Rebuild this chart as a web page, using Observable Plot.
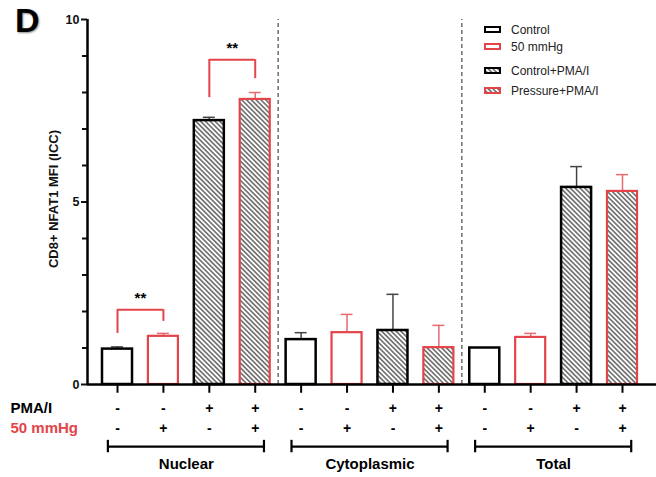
<!DOCTYPE html>
<html><head><meta charset="utf-8">
<script src="https://cdn.jsdelivr.net/npm/d3@7"></script>
<script src="https://cdn.jsdelivr.net/npm/@observablehq/plot@0.6"></script>
<style>
body{margin:0;background:#fff;font-family:"Liberation Sans",Arial,sans-serif;}
#wrap{position:relative;width:656px;height:477px;overflow:hidden}
#panel{position:absolute;left:15px;top:3px;font-size:34px;font-weight:bold;color:#000;text-shadow:1px 1px 2px rgba(0,0,0,0.45);line-height:1}
#legend{position:absolute;left:484px;top:21px;font-size:12px;color:#222}
#legend .row{display:flex;align-items:center;height:17px}
#legend svg{margin-right:10px}
</style></head><body>
<svg width="0" height="0" style="position:absolute">
  <defs>
    <pattern id="hatch" patternUnits="userSpaceOnUse" width="3.4" height="3.4" patternTransform="rotate(45)">
      <rect width="3.4" height="3.4" fill="#fff"/>
      <line x1="0" y1="1.7" x2="3.4" y2="1.7" stroke="#3a3a3a" stroke-width="1.2"/>
    </pattern>
  </defs>
</svg>
<div id="wrap"></div>
<script>
const compartments = ["Nuclear", "Cytoplasmic", "Total"];
const conditions = ["Control", "50 mmHg", "Control+PMA/I", "Pressure+PMA/I"];
const nuclearMean = [0.97, 1.32, 7.23, 7.81];
const nuclearErr  = [1.03, 1.40, 7.32, 8.00];
const cytoMean    = [1.23, 1.42, 1.48, 1.01];
const cytoErr     = [1.42, 1.92, 2.47, 1.62];
const totalMean   = [1.00, 1.29, 5.40, 5.29];
const totalErr    = [1.00, 1.40, 5.97, 5.75];
const pmaSigns      = ["-", "-", "+", "+"];
const pressureSigns = ["-", "+", "-", "+"];
const yTicks = [0, 5, 10];
const yMinorTicks = [1, 2, 3, 4, 6, 7, 8, 9];
const yLabel = "CD8+ NFAT1 MFI (ICC)";
// significance annotations: bar indices, bracket top, leg bottoms
const sigA = [0, 2];
const sigB = [1, 3];
const sigTop = [2.05, 8.90];
const sigLowA = [1.40, 7.86];
const sigLowB = [1.73, 8.38];
const sigText = ["**", "**"];

const RED = "#e3444a";
const means = [nuclearMean, cytoMean, totalMean];
const errs = [nuclearErr, cytoErr, totalErr];
const rows = [];
compartments.forEach((c, ci) => conditions.forEach((k, ki) => {
  rows.push({compartment: c, condition: k, ki, pos: ci * 4 + ki + 1,
    mean: means[ci][ki], err: errs[ci][ki], pma: pmaSigns[ki], pressure: pressureSigns[ki]});
}));
const groups = compartments.map((c, ci) => ({name: c, first: ci * 4 + 1, last: ci * 4 + 4}));
const sigs = sigA.map((a, i) => ({a: a + 1, b: sigB[i] + 1, top: sigTop[i], lowA: sigLowA[i], lowB: sigLowB[i], text: sigText[i]}));

const W = 0.327, CAP = 0.13;
const strokeOf = ki => ki % 2 === 0 ? "#000" : RED;
const errColOf = ki => ki % 2 === 0 ? "#444" : "#e86a6e";
const fillOf = ki => ki < 2 ? "#fff" : "url(#hatch)";

const barMarks = [];
const errMarks = [];
conditions.forEach((k, ki) => {
  const d = rows.filter(r => r.ki === ki);
  const de = d.filter(r => r.err > r.mean);
  errMarks.push(Plot.ruleX(de, {x: "pos", y1: "mean", y2: "err", stroke: errColOf(ki), strokeWidth: 1.5}));
  errMarks.push(Plot.ruleY(de, {y: "err", x1: r => r.pos - CAP, x2: r => r.pos + CAP, stroke: errColOf(ki), strokeWidth: 1.5}));
  barMarks.push(Plot.rectY(d, {x1: r => r.pos - W, x2: r => r.pos + W, y1: 0, y2: "mean",
    fill: fillOf(ki), stroke: strokeOf(ki), strokeWidth: ki % 2 === 0 ? 2.5 : 2.2}));
});

const xMin = 0.3464, xMax = 12.7407;
const font = "'Liberation Sans', Arial, sans-serif";

const chart = Plot.plot({
  width: 656, height: 477,
  marginLeft: 87, marginRight: 0, marginTop: 19, marginBottom: 93,
  x: {domain: [xMin, xMax], axis: null},
  y: {domain: [0, 10], axis: null},
  style: {fontFamily: font, fontSize: "11px", color: "#111", background: "transparent", overflow: "visible"},
  marks: [
    Plot.ruleX([4.5, 8.5], {y1: 0, y2: 10, stroke: "#777", strokeWidth: 1.6, strokeDasharray: "4,3"}),
    ...errMarks,
    ...barMarks,
    // significance brackets
    Plot.ruleX(sigs, {x: "a", y1: "lowA", y2: "top", stroke: RED, strokeWidth: 2}),
    Plot.ruleX(sigs, {x: "b", y1: "lowB", y2: "top", stroke: RED, strokeWidth: 2}),
    Plot.ruleY(sigs, {y: "top", x1: "a", x2: "b", stroke: RED, strokeWidth: 2}),
    Plot.text(sigs, {x: d => (d.a + d.b) / 2, y: "top", dy: -11, text: "text", fontSize: 15, fontWeight: "bold", fill: "#000"}),
    // axes
    Plot.axisY({ticks: yMinorTicks, tickSize: 5, strokeWidth: 2, tickFormat: () => "", label: null}),
    Plot.axisY({ticks: yTicks, tickSize: 6, strokeWidth: 2, tickPadding: 2, fontWeight: "bold", fontSize: 12.5, label: null}),
    Plot.ruleX([xMin], {y1: 0, y2: 10, stroke: "#000", strokeWidth: 2.5}),
    Plot.ruleY([0], {stroke: "#000", strokeWidth: 2.5}),
    Plot.ruleX(rows, {x: "pos", y1: 0, y2: -0.24, stroke: "#000", strokeWidth: 2}),
    Plot.text([yLabel], {frameAnchor: "left", textAnchor: "middle", dx: -34, dy: -3, rotate: -90, fontWeight: "bold", fontSize: 13, fill: "#111"}),
    // factor rows under axis
    Plot.text(rows, {x: "pos", y: 0, dy: 24, text: "pma", fontSize: 14, fontWeight: "bold", fill: "#000"}),
    Plot.text(rows, {x: "pos", y: 0, dy: 44, text: "pressure", fontSize: 14, fontWeight: "bold", fill: "#000"}),
    Plot.text(["PMA/I"], {x: xMin, y: 0, dx: -77, dy: 24, textAnchor: "start", fontSize: 15, fontWeight: "bold", fill: "#000"}),
    Plot.text(["50 mmHg"], {x: xMin, y: 0, dx: -77, dy: 44, textAnchor: "start", fontSize: 15, fontWeight: "bold", fill: RED}),
    // compartment brackets
    Plot.ruleY(groups, {y: -1.70, x1: d => d.first - 0.21, x2: d => d.last + 0.19, stroke: "#000", strokeWidth: 2.2}),
    Plot.ruleX(groups, {x: d => d.first - 0.21, y1: -1.53, y2: -1.87, stroke: "#000", strokeWidth: 2.2}),
    Plot.ruleX(groups, {x: d => d.last + 0.19, y1: -1.53, y2: -1.87, stroke: "#000", strokeWidth: 2.2}),
    Plot.text(groups, {x: d => (d.first + d.last) / 2, y: -2.17, text: "name", fontSize: 15, fontWeight: "bold", fill: "#000"})
  ]
});

const wrap = document.getElementById("wrap");
wrap.appendChild(chart);
const panel = document.createElement("div");
panel.id = "panel"; panel.textContent = "D";
wrap.appendChild(panel);

const legend = document.createElement("div");
legend.id = "legend";
const swatch = (ki) => `<svg width="17" height="7"><rect x="1" y="1" width="15" height="5" fill="${fillOf(ki)}" stroke="${strokeOf(ki)}" stroke-width="2"/></svg>`;
legend.innerHTML = conditions.map((k, ki) =>
  `<div class="row" style="${ki === 2 ? 'margin-top:7px' : ''}${ki === 3 ? ';margin-top:3px' : ''}">${swatch(ki)}<span>${k}</span></div>`).join("");
wrap.appendChild(legend);
</script>
</body></html>
